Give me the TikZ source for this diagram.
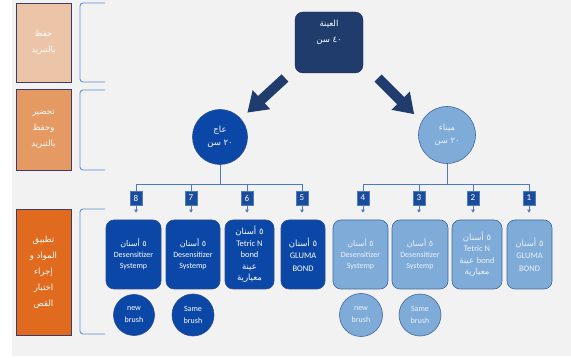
\documentclass[tikz,border=0pt]{standalone}
\usepackage{fontspec}
\setmainfont{Carlito}
\newfontfamily\arabicfont[Script=Arabic]{DejaVu Sans}
\TeXXeTstate=1
\usetikzlibrary{arrows.meta}
\newcommand{\artxt}[1]{{\arabicfont\beginR #1\endR}}
\newcommand{\ltr}[1]{\beginL #1\endL{}}
\definecolor{bgg}{HTML}{F2F2F2}
\definecolor{peachA}{HTML}{ECC4A7}
\definecolor{peachB}{HTML}{E69A63}
\definecolor{peachC}{HTML}{E06B1F}
\definecolor{lblborder}{HTML}{3E3B6A}
\definecolor{brkc}{HTML}{5B8FD3}
\definecolor{navy}{HTML}{1F3C6C}
\definecolor{darkb}{HTML}{0A47A6}
\definecolor{darkbd}{HTML}{2A4C8C}
\definecolor{lightb}{HTML}{7FABD8}
\definecolor{lightbd}{HTML}{3F679F}
\definecolor{numb}{HTML}{1B4C9A}
\definecolor{connc}{HTML}{4A7BC4}
\definecolor{paletxt}{HTML}{EDF2FA}
\tikzset{
  lbl/.style={draw=lblborder, line width=0.8pt, text=white, align=center, inner sep=0pt,
    minimum width=55, font=\fontsize{8.5}{16}\selectfont},
  brk/.style={draw=brkc, line width=0.9pt, rounded corners=3},
  topbox/.style={fill=navy, draw=navy!70!black, rounded corners=8, text=white, align=center,
    minimum width=68, minimum height=61, inner sep=0pt, font=\fontsize{8.5}{16}\selectfont},
  bigarrow/.style={fill=navy},
  darkcirc/.style={circle, fill=darkb, draw=darkbd, line width=0.6pt, text=white, align=center,
    inner sep=0pt, font=\fontsize{8.5}{13}\selectfont},
  lightcirc/.style={circle, fill=lightb, draw=lightbd, line width=0.6pt, text=paletxt, align=center,
    inner sep=0pt, font=\fontsize{8.5}{13}\selectfont},
  darkbox/.style={fill=darkb, draw=darkbd, line width=0.6pt, rounded corners=8, text=white,
    align=center, minimum height=69, inner sep=0pt, font=\fontsize{8}{11}\selectfont},
  lightbox/.style={fill=lightb, draw=lightbd, line width=0.6pt, rounded corners=8, text=paletxt,
    align=center, minimum height=69, inner sep=0pt, font=\fontsize{8}{11}\selectfont},
  numbox/.style={fill=numb, draw=connc, line width=0.4pt, text=white, minimum width=12,
    minimum height=14, inner sep=0pt, font=\fontsize{9}{10}\selectfont},
  conn/.style={draw=connc, line width=0.8pt},
  downarr/.style={draw=connc, line width=0.8pt, -{Triangle[length=3pt,width=3.5pt]}, shorten >=7pt},
  brushtxt/.style={font=\fontsize{8}{12}\selectfont}
}
\begin{document}
\begin{tikzpicture}[x=1pt,y=-1pt]
\useasboundingbox (0,0) rectangle (571,358);
\fill[bgg] (12,0) rectangle (571,356);

% left labels
\node[lbl, fill=peachA, minimum height=79] (l1) at (43.5,42.5) {\artxt{حفظ}\\\artxt{بالتبريد}};
\node[lbl, fill=peachB, minimum height=81] (l2) at (43.5,129.5) {\artxt{تحضير}\\\artxt{وحفظ}\\\artxt{بالتبريد}};
\node[lbl, fill=peachC, minimum height=126] (l3) at (43.5,272) {\artxt{تطبيق}\\\artxt{المواد و}\\\artxt{إجراء}\\\artxt{اختبار}\\\artxt{القص}};

% brackets
\draw[brk] (105,3) -- (80,3) -- (80,82) -- (105,82);
\draw[brk] (105,90) -- (80,90) -- (80,170) -- (105,170);
\draw[brk] (105,209) -- (80,209) -- (80,334) -- (105,334);

% top node
\node[topbox] (top) at (329,42.5) {\artxt{العينة}\\\artxt{\ltr{٤٠} سن}\\[6pt]};

% block arrows
\begin{scope}[shift={(285,78)}, rotate=222.6]
  \fill[bigarrow] (0,5) -- (32,5) -- (32,13) -- (51,0) -- (32,-13) -- (32,-5) -- (0,-5) -- cycle;
\end{scope}
\begin{scope}[shift={(378,78)}, rotate=-45]
  \fill[bigarrow] (0,5) -- (32,5) -- (32,13) -- (51,0) -- (32,-13) -- (32,-5) -- (0,-5) -- cycle;
\end{scope}

% second level
\node[darkcirc, minimum size=55] (dentin) at (220,137) {\artxt{عاج}\\\artxt{\ltr{٢٠} سن}};
\node[lightcirc, minimum size=57] (enamel) at (447,135) {\artxt{ميناء}\\\artxt{\ltr{٢٠} سن}};

% number boxes
\node[numbox] (n8) at (136,198) {8};
\node[numbox] (n7) at (191,198) {7};
\node[numbox] (n6) at (247,198) {6};
\node[numbox] (n5) at (302,198) {5};
\node[numbox] (n4) at (363,198) {4};
\node[numbox] (n3) at (419,198) {3};
\node[numbox] (n2) at (473,198) {2};
\node[numbox] (n1) at (529,198) {1};

% buses
\coordinate (busL) at (220,184.5);
\coordinate (busR) at (447,184.5);
\draw[conn] (dentin) -- (busL);
\draw[conn] (enamel) -- (busR);
\draw[conn] (n8.north) -- ++(0,-6.5) -| (n5.north);
\draw[conn] (n7.north) -- ++(0,-6.5);
\draw[conn] (n6.north) -- ++(0,-6.5);
\draw[conn] (n4.north) -- ++(0,-6.5) -| (n1.north);
\draw[conn] (n3.north) -- ++(0,-6.5);
\draw[conn] (n2.north) -- ++(0,-6.5);

% material boxes
\node[darkbox, minimum width=55] (b8) at (133.5,254.5) {\artxt{٥ أسنان}\\Desensitizer\\Systemp};
\node[darkbox, minimum width=54] (b7) at (193,254.5) {\artxt{٥ أسنان}\\Desensitizer\\Systemp};
\node[darkbox, minimum width=49, font=\fontsize{8.5}{11.5}\selectfont] (b6) at (249.5,254.5) {\artxt{٥ أسنان}\\Tetric N\\bond\\\artxt{عينة}\\\artxt{معيارية}};
\node[darkbox, minimum width=44, font=\fontsize{8.5}{12.5}\selectfont] (b5) at (303,254.5) {\artxt{٥ أسنان}\\GLUMA\\BOND};
\node[lightbox, minimum width=55] (b4) at (360.5,254.5) {\artxt{٥ أسنان}\\Desensitizer\\Systemp};
\node[lightbox, minimum width=56] (b3) at (420,254.5) {\artxt{٥ أسنان}\\Desensitizer\\Systemp};
\node[lightbox, minimum width=50, font=\fontsize{8.5}{11.5}\selectfont] (b2) at (477,254.5) {\artxt{٥ أسنان}\\Tetric N\\\artxt{\ltr{{\rmfamily bond}} عينة}\\\artxt{معيارية}};
\node[lightbox, minimum width=45, font=\fontsize{8.5}{12.5}\selectfont] (b1) at (529.5,254.5) {\artxt{٥ أسنان}\\GLUMA\\BOND};

\foreach \i in {1,...,8} {
  \draw[downarr] (n\i.south) -- (n\i.south |- b\i.north);
}

% brush circles
\node[darkcirc, minimum size=41, brushtxt] (c8) at (134,315) {new\\brush};
\node[darkcirc, minimum size=42, brushtxt] (c7) at (193,315) {Same\\brush};
\node[lightcirc, minimum size=43, brushtxt] (c4) at (361,315) {new\\brush};
\node[lightcirc, minimum size=42, brushtxt] (c3) at (420,315) {Same\\brush};
\end{tikzpicture}
\end{document}
